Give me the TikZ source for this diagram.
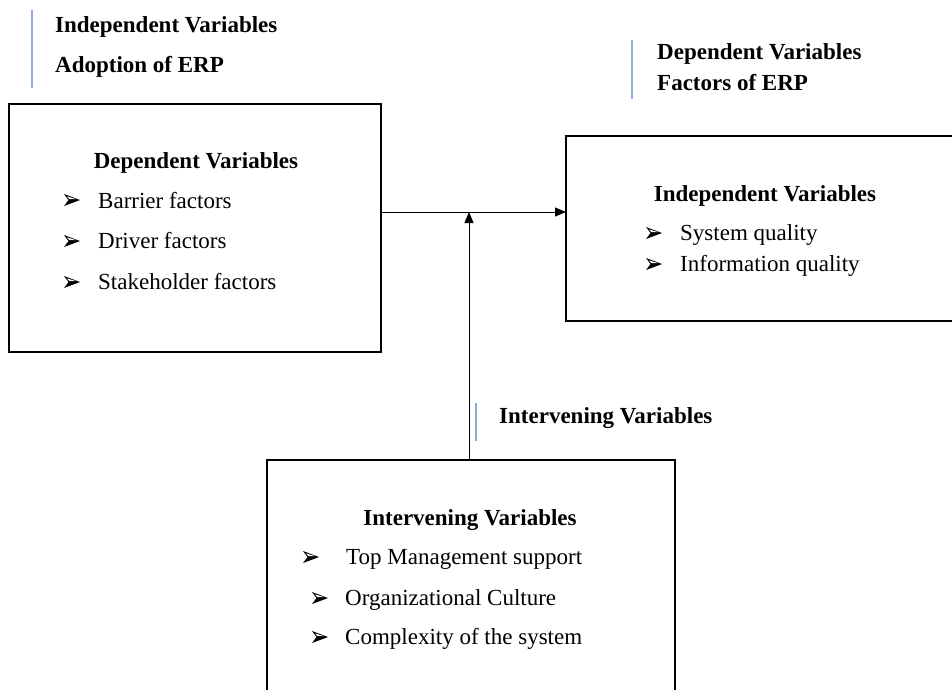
\documentclass[tikz,border=0pt]{standalone}
\usepackage{fontspec}
\setmainfont{Liberation Serif}
\usetikzlibrary{arrows.meta}
\definecolor{barblue}{HTML}{8FAADC}
\tikzset{
  box/.style={draw=black, line width=2.2pt, fill=none},
  bar/.style={draw=barblue, line width=2pt},
  hdr/.style={anchor=base west, inner sep=0pt, font=\fontsize{23}{26}\selectfont\bfseries},
  itm/.style={anchor=base west, inner sep=0pt, font=\fontsize{23}{26}\selectfont},
  conn/.style={draw=black, line width=1pt, -{Triangle[length=11pt,width=9pt]}},
  arrowbullet/.pic={
    \fill[black] (-8,-6) -- (8,0) -- (-8,6) -- (-3.5,0) -- cycle;
    \fill[white] (-5,-3.6) -- (4,-0.9) -- (-2.6,-0.9) -- cycle;
  }
}
\begin{document}
\begin{tikzpicture}[x=1pt,y=-1pt]
\useasboundingbox (0,0) rectangle (952,689);
\clip (0,0) rectangle (952,689);
% boxes
\draw[box] (9,104) rectangle (381,352);
\draw[box] (566,136) rectangle (990,321);
\draw[box] (267,460) rectangle (675,730);
\coordinate (lbE) at (381,212);
\coordinate (rbW) at (566,212);
\coordinate (bbN) at (469,460);
\coordinate (jn) at (469,212);
% connectors
\draw[conn] (lbE) -- (rbW);
\draw[conn] (bbN) -- (jn);
% header bars
\draw[bar] (32,10) -- (32,88);
\draw[bar] (632,40) -- (632,99);
\draw[bar] (476,403) -- (476,441);
% top-left header
\node[hdr] (h1) at (55,32) {Independent Variables};
\node[hdr] (h2) at (55,72) {Adoption of ERP};
% top-right header
\node[hdr] (h3) at (657,59) {Dependent Variables};
\node[hdr] (h4) at (657,90) {Factors of ERP};
% intervening label
\node[hdr] (h5) at (499,423) {Intervening Variables};
% left box content
\node[hdr, anchor=base] (lt) at (196,168) {Dependent Variables};
\pic at (72,200) {arrowbullet};
\node[itm] (li1) at (98,208) {Barrier factors};
\pic at (72,241) {arrowbullet};
\node[itm] (li2) at (98,248) {Driver factors};
\pic at (72,282) {arrowbullet};
\node[itm] (li3) at (98,289) {Stakeholder factors};
% right box content
\node[hdr, anchor=base] (rt) at (765,201) {Independent Variables};
\pic at (654,233) {arrowbullet};
\node[itm] (ri1) at (680,240) {System quality};
\pic at (654,264) {arrowbullet};
\node[itm] (ri2) at (680,271) {Information quality};
% bottom box content
\node[hdr, anchor=base] (bt) at (470,525) {Intervening Variables};
\pic at (311,557) {arrowbullet};
\node[itm] (bi1) at (346,564) {Top Management support};
\pic at (320,598) {arrowbullet};
\node[itm] (bi2) at (345,605) {Organizational Culture};
\pic at (320,637) {arrowbullet};
\node[itm] (bi3) at (345,644) {Complexity of the system};
\end{tikzpicture}
\end{document}
